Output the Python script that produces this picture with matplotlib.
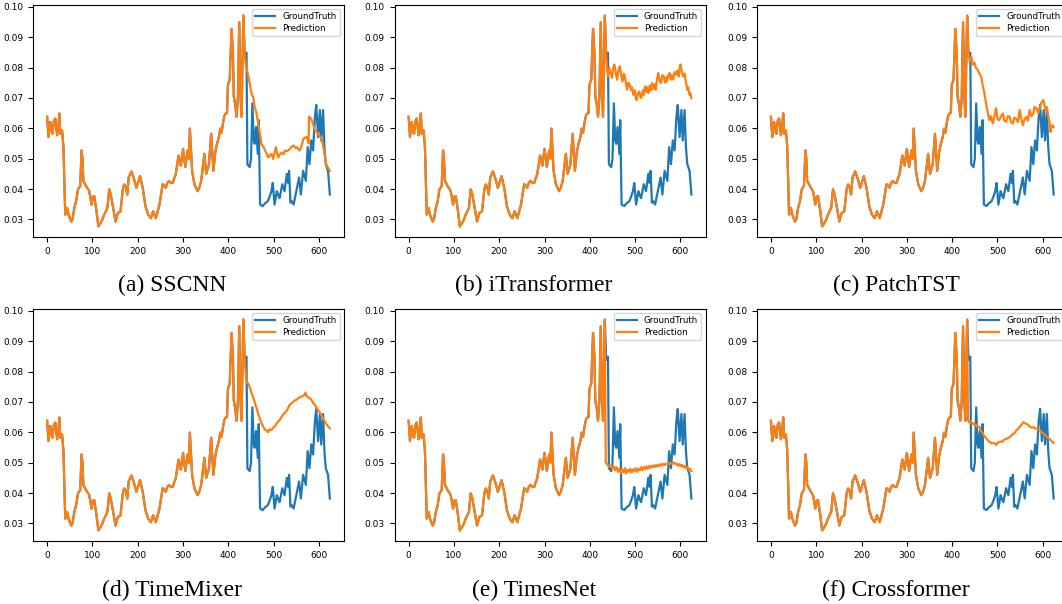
import numpy as np
import matplotlib.pyplot as plt

gt_idx = [0, 3, 7, 10, 12, 15, 18, 22, 25, 27, 29, 33, 36, 40, 44, 47, 50, 53, 56, 60,
          64, 68, 73, 76, 78, 80, 86, 93, 98, 101, 104, 109, 113, 118, 122, 126, 133, 137, 140, 142,
          147, 151, 156, 162, 167, 170, 173, 177, 180, 186, 192, 197, 202, 205, 211, 217, 223, 229, 234, 240,
          248, 255, 258, 262, 265, 269, 273, 277, 284, 290, 295, 300, 305, 310, 313, 315, 320, 325, 332, 336,
          340, 347, 351, 357, 362, 367, 371, 375, 379, 382, 385, 388, 391, 394, 397, 399, 403, 407, 410, 412,
          415, 418, 421, 424, 427, 429, 433, 436, 440, 442, 447, 450, 453, 456, 458, 461, 465, 467, 470, 476,
          480, 487, 491, 495, 498, 502, 507, 510, 513, 519, 524, 529, 532, 534, 537, 540, 544, 550, 556, 560,
          565, 571, 575, 579, 583, 587, 591, 594, 598, 602, 605, 609, 612, 615, 620, 624]
gt_val = [0.0638, 0.0571, 0.0621, 0.0590, 0.0582, 0.0625, 0.0632, 0.0577, 0.0610, 0.0649,
          0.0582, 0.0593, 0.0538, 0.0316, 0.0338, 0.0316, 0.0305, 0.0293, 0.0300, 0.0338,
          0.0360, 0.0399, 0.0410, 0.0527, 0.0500, 0.0427, 0.0410, 0.0393, 0.0349, 0.0375,
          0.0377, 0.0327, 0.0277, 0.0288, 0.0300, 0.0316, 0.0338, 0.0399, 0.0385, 0.0370,
          0.0327, 0.0293, 0.0321, 0.0327, 0.0399, 0.0415, 0.0410, 0.0382, 0.0438, 0.0458,
          0.0432, 0.0404, 0.0427, 0.0443, 0.0404, 0.0343, 0.0316, 0.0304, 0.0327, 0.0304,
          0.0349, 0.0416, 0.0412, 0.0404, 0.0420, 0.0427, 0.0420, 0.0420, 0.0450, 0.0510,
          0.0477, 0.0532, 0.0473, 0.0527, 0.0500, 0.0599, 0.0460, 0.0416, 0.0393, 0.0405,
          0.0427, 0.0516, 0.0450, 0.0480, 0.0582, 0.0460, 0.0520, 0.0549, 0.0570, 0.0599,
          0.0585, 0.0616, 0.0640, 0.0649, 0.0650, 0.0743, 0.0760, 0.0927, 0.0850, 0.0704,
          0.0680, 0.0638, 0.0700, 0.0949, 0.0700, 0.0638, 0.0971, 0.0838, 0.0849, 0.0482,
          0.0472, 0.0500, 0.0682, 0.0560, 0.0549, 0.0604, 0.0516, 0.0627, 0.0349, 0.0344,
          0.0352, 0.0360, 0.0375, 0.0393, 0.0420, 0.0349, 0.0393, 0.0380, 0.0370, 0.0416,
          0.0393, 0.0450, 0.0420, 0.0460, 0.0355, 0.0360, 0.0349, 0.0393, 0.0438, 0.0382,
          0.0460, 0.0427, 0.0538, 0.0482, 0.0560, 0.0527, 0.0638, 0.0677, 0.0571, 0.0660,
          0.0560, 0.0660, 0.0538, 0.0482, 0.0460, 0.0382]

# last input step: predictions follow the ground truth up to here
split_idx = 433

# forecasts of each model after the input window
sscnn_idx = [436, 440, 444, 448, 451, 455, 458, 462, 466, 470, 473, 477, 481, 485, 488, 492, 495, 499,
             502, 505, 508, 510, 514, 518, 522, 525, 530, 536, 540, 544, 548, 551, 555, 558, 562, 566,
             570, 573, 576, 577, 578, 581, 584, 588, 591, 594, 598, 601, 604, 608, 611, 614, 616, 620, 624]
sscnn_val = [0.0835, 0.0800, 0.0771, 0.0740, 0.0716, 0.0700, 0.0671, 0.0650, 0.0616, 0.0580, 0.0549,
             0.0540, 0.0527, 0.0515, 0.0504, 0.0512, 0.0516, 0.0499, 0.0520, 0.0538, 0.0515, 0.0504,
             0.0515, 0.0520, 0.0515, 0.0527, 0.0525, 0.0532, 0.0540, 0.0543, 0.0535, 0.0538, 0.0530,
             0.0527, 0.0545, 0.0566, 0.0570, 0.0571, 0.0560, 0.0550, 0.0638, 0.0635, 0.0627, 0.0610,
             0.0593, 0.0590, 0.0582, 0.0575, 0.0571, 0.0550, 0.0527, 0.0495, 0.0482, 0.0470, 0.0460]

itrans_idx = [436, 438, 440, 443, 446, 449, 451, 454, 457, 460, 463, 466, 469, 472, 475, 477, 480, 482,
              485, 488, 491, 493, 496, 499, 501, 503, 506, 509, 512, 514, 517, 519, 522, 525, 527, 529,
              532, 535, 537, 540, 543, 545, 548, 551, 554, 557, 560, 563, 566, 568, 570, 573, 576, 579,
              581, 584, 587, 590, 593, 596, 598, 600, 603, 606, 609, 611, 613, 615, 617, 620, 622, 624]
itrans_val = [0.0838, 0.0790, 0.0771, 0.0799, 0.0780, 0.0766, 0.0795, 0.0810, 0.0785, 0.0760, 0.0790,
              0.0804, 0.0775, 0.0754, 0.0780, 0.0771, 0.0745, 0.0727, 0.0750, 0.0743, 0.0725, 0.0735,
              0.0710, 0.0725, 0.0700, 0.0693, 0.0715, 0.0721, 0.0700, 0.0702, 0.0725, 0.0710, 0.0738,
              0.0720, 0.0735, 0.0716, 0.0740, 0.0725, 0.0749, 0.0730, 0.0745, 0.0727, 0.0760, 0.0782,
              0.0755, 0.0749, 0.0775, 0.0771, 0.0750, 0.0768, 0.0754, 0.0775, 0.0782, 0.0760, 0.0775,
              0.0760, 0.0785, 0.0777, 0.0790, 0.0770, 0.0795, 0.0810, 0.0785, 0.0771, 0.0780, 0.0760,
              0.0745, 0.0727, 0.0735, 0.0710, 0.0715, 0.0699]

patch_idx = [436, 439, 442, 445, 449, 452, 456, 460, 464, 467, 471, 474, 476, 479, 482, 485, 488, 490,
             493, 497, 500, 504, 508, 512, 515, 519, 523, 527, 530, 534, 537, 541, 545, 549, 552, 556,
             560, 564, 567, 571, 575, 579, 582, 586, 590, 594, 597, 601, 604, 606, 609, 612, 615, 617,
             619, 621, 624]
patch_val = [0.0850, 0.0820, 0.0835, 0.0810, 0.0816, 0.0800, 0.0793, 0.0780, 0.0771, 0.0745, 0.0716,
             0.0690, 0.0671, 0.0650, 0.0627, 0.0640, 0.0625, 0.0616, 0.0640, 0.0666, 0.0630, 0.0627,
             0.0640, 0.0649, 0.0625, 0.0621, 0.0640, 0.0638, 0.0620, 0.0616, 0.0635, 0.0632, 0.0620,
             0.0660, 0.0635, 0.0610, 0.0630, 0.0638, 0.0625, 0.0660, 0.0640, 0.0649, 0.0670, 0.0666,
             0.0650, 0.0671, 0.0685, 0.0693, 0.0675, 0.0660, 0.0670, 0.0638, 0.0620, 0.0588, 0.0600,
             0.0610, 0.0605]

mixer_idx = [436, 440, 444, 448, 451, 454, 458, 462, 466, 469, 473, 477, 481, 484, 488, 491, 495, 499,
             503, 507, 510, 513, 517, 521, 525, 529, 532, 535, 539, 543, 547, 550, 554, 558, 562, 565,
             568, 570, 573, 577, 581, 584, 587, 591, 595, 599, 602, 605, 609, 613, 617, 621, 624]
mixer_val = [0.0835, 0.0768, 0.0760, 0.0745, 0.0730, 0.0718, 0.0700, 0.0680, 0.0660, 0.0646, 0.0630,
             0.0618, 0.0608, 0.0607, 0.0600, 0.0610, 0.0607, 0.0615, 0.0620, 0.0630, 0.0635, 0.0640,
             0.0650, 0.0658, 0.0665, 0.0672, 0.0680, 0.0690, 0.0695, 0.0700, 0.0705, 0.0707, 0.0712,
             0.0715, 0.0718, 0.0720, 0.0723, 0.0730, 0.0718, 0.0715, 0.0710, 0.0705, 0.0697, 0.0690,
             0.0680, 0.0670, 0.0665, 0.0657, 0.0645, 0.0635, 0.0625, 0.0618, 0.0613]

times_idx = [435, 438, 441, 444, 447, 450, 453, 456, 459, 462, 465, 468, 471, 474, 477, 480, 483, 486,
             489, 492, 495, 498, 501, 504, 507, 510, 513, 516, 519, 522, 525, 528, 531, 534, 537, 540,
             543, 546, 549, 552, 555, 558, 561, 564, 567, 570, 573, 576, 579, 582, 585, 588, 591, 594,
             597, 600, 603, 606, 609, 612, 615, 618, 621, 624]
times_val = [0.0501, 0.0495, 0.0490, 0.0485, 0.0490, 0.0480, 0.0488, 0.0475, 0.0485, 0.0470, 0.0480,
             0.0465, 0.0478, 0.0468, 0.0482, 0.0465, 0.0476, 0.0470, 0.0480, 0.0468, 0.0478, 0.0472,
             0.0482, 0.0470, 0.0480, 0.0475, 0.0485, 0.0475, 0.0486, 0.0478, 0.0488, 0.0480, 0.0489,
             0.0483, 0.0490, 0.0485, 0.0492, 0.0486, 0.0493, 0.0488, 0.0495, 0.0490, 0.0496, 0.0492,
             0.0497, 0.0494, 0.0499, 0.0495, 0.0500, 0.0497, 0.0501, 0.0495, 0.0498, 0.0490, 0.0495,
             0.0488, 0.0493, 0.0485, 0.0490, 0.0482, 0.0487, 0.0476, 0.0480, 0.0472]

cross_idx = [435, 438, 441, 444, 447, 450, 453, 456, 460, 463, 466, 469, 472, 475, 478, 481, 484, 487,
             490, 494, 497, 500, 503, 506, 510, 514, 518, 522, 527, 531, 535, 539, 542, 546, 550, 553,
             557, 560, 564, 568, 572, 576, 580, 584, 587, 591, 595, 598, 601, 605, 609, 613, 617, 620,
             622, 624]
cross_val = [0.0640, 0.0632, 0.0636, 0.0628, 0.0630, 0.0622, 0.0625, 0.0618, 0.0618, 0.0605, 0.0600,
             0.0592, 0.0585, 0.0580, 0.0575, 0.0570, 0.0568, 0.0563, 0.0565, 0.0563, 0.0558, 0.0565,
             0.0567, 0.0570, 0.0568, 0.0575, 0.0578, 0.0580, 0.0584, 0.0590, 0.0595, 0.0600, 0.0607,
             0.0612, 0.0620, 0.0625, 0.0634, 0.0630, 0.0628, 0.0624, 0.0618, 0.0615, 0.0617, 0.0612,
             0.0612, 0.0608, 0.0605, 0.0600, 0.0596, 0.0592, 0.0585, 0.0580, 0.0575, 0.0570, 0.0568,
             0.0565]

model_names = ["SSCNN", "iTransformer", "PatchTST", "TimeMixer", "TimesNet", "Crossformer"]
panel_letters = ["a", "b", "c", "d", "e", "f"]
forecasts = [(sscnn_idx, sscnn_val), (itrans_idx, itrans_val), (patch_idx, patch_val),
             (mixer_idx, mixer_val), (times_idx, times_val), (cross_idx, cross_val)]


W, H = 1062, 604
fig = plt.figure(figsize=(W / 100, H / 100), dpi=100)

gt_x = np.array(gt_idx)
gt_y = np.array(gt_val)
hist = gt_x <= split_idx

# panel layout in pixels (third column runs off the right edge, as in the source)
col_left = [33, 394.5, 756.8]
row_top = [5, 309]
ax_w, ax_h = 311, 232
caption_x = [172, 534, 896]
caption_y = [285, 590]

for i, (name, letter, (f_idx, f_val)) in enumerate(zip(model_names, panel_letters, forecasts)):
    r, c = divmod(i, 3)
    ax = fig.add_axes([col_left[c] / W, 1 - (row_top[r] + ax_h) / H, ax_w / W, ax_h / H])

    pred_x = np.concatenate([gt_x[hist], f_idx])
    pred_y = np.concatenate([gt_y[hist], f_val])

    ax.plot(gt_x, gt_y, color='#1f77b4', linewidth=1.6, label='GroundTruth')
    ax.plot(pred_x, pred_y, color='#ff7f0e', linewidth=1.6, label='Prediction')

    ax.set_xticks([0, 100, 200, 300, 400, 500, 600])
    ax.tick_params(labelsize=6.5, length=3.5, width=0.8)
    ax.legend(loc='upper right', fontsize=6.3, handlelength=2.3, borderpad=0.35,
              labelspacing=0.3, framealpha=0.8)

    fig.text(caption_x[c] / W, 1 - caption_y[r] / H, f"({letter}) {name}",
             ha='center', va='center', fontsize=17, family='Liberation Serif')

fig.savefig('out.png', dpi=100)
